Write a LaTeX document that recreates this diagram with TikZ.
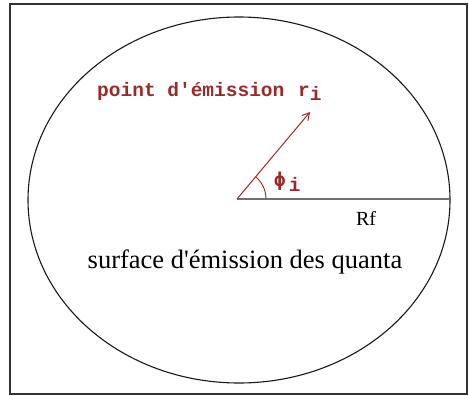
\documentclass[tikz,border=0pt]{standalone}
\usepackage{fontspec}
\newfontfamily\serf{Liberation Serif}
\newfontfamily\monof{Liberation Mono}
\newfontfamily\phif{DejaVu Sans Mono}
\usetikzlibrary{arrows.meta,calc}
\definecolor{dred}{HTML}{9A2A2A}
\definecolor{lgray}{HTML}{707070}
\begin{document}
\begin{tikzpicture}[x=1pt,y=-1pt,
  redtxt/.style={text=dred,font=\monof\bfseries\fontsize{19.5}{20}\selectfont,inner sep=0pt},
  blacktxt/.style={text=black,inner sep=0pt}]
\useasboundingbox (0,0) rectangle (469,396);
\draw[line width=1.2pt,black!80] (10,4) rectangle (467,394);
\coordinate (O) at (237,199);
\coordinate (E) at (449,199);
\coordinate (P) at (310,112);
\draw[line width=1.1pt,black!90] (239,200) ellipse [x radius=211, y radius=183];
\draw[lgray,line width=2.2pt] (O) -- (E);
\draw[dred,line width=1pt,-{Straight Barb[length=7pt,width=8pt]}] (O) -- (P);
\draw[dred,line width=0.9pt] ($(O)+(29,0)$) arc[start angle=0,end angle=-50,radius=29];
\node[redtxt,anchor=base west] (lab) at (97,97) {point d'émission};
\node[redtxt,anchor=base west] (r) at (298,96) {r\raisebox{-5pt}{i}};
\node[redtxt,anchor=base west] (phi) at (274,186) {{\phif\bfseries\fontsize{19}{19}\selectfont ϕ}\,\raisebox{-5pt}{i}};
\node[blacktxt,font=\serf\fontsize{20}{20}\selectfont,anchor=base] (rf) at (366,225) {Rf};
\node[blacktxt,font=\serf\fontsize{26.5}{27}\selectfont,anchor=base] (surf) at (245,268) {surface d'émission des quanta};
\end{tikzpicture}
\end{document}
